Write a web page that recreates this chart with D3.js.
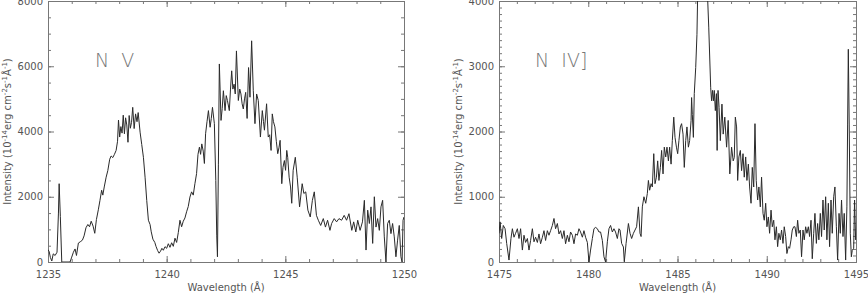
<!DOCTYPE html>
<html>
<head>
<meta charset="utf-8">
<script src="https://cdn.jsdelivr.net/npm/d3@7"></script>
<style>
  body { margin: 0; background: #fff; }
  svg { display: block; }
  .axis path, .axis line { stroke: #777; }
  .axis text { fill: #555; font-family: "DejaVu Sans", sans-serif; font-size: 10px; }
  .lbl { fill: #555; font-family: "DejaVu Sans", sans-serif; font-size: 10px; }
  .ion { fill: #777; font-family: "DejaVu Sans", sans-serif; font-size: 19px; font-weight: 200; white-space: pre; }
</style>
</head>
<body>
<div class="chart"></div>
<script>
// N V panel (1235-1250 A)
let nvWave = [1235.00,1235.05,1235.10,1235.16,1235.22,1235.30,1235.38,1235.44,1235.47,1235.52,1235.58,1235.93,
  1236.00,1236.07,1236.14,1236.20,1236.28,1236.36,1236.45,1236.52,1236.60,1236.68,1236.75,1236.82,1236.90,1236.97,
  1237.04,1237.12,1237.19,1237.26,1237.31,1237.37,1237.45,1237.52,1237.60,1237.66,1237.73,1237.80,1237.87,1237.93,
  1237.97,1238.02,1238.07,1238.12,1238.17,1238.22,1238.27,1238.32,1238.37,1238.42,1238.47,1238.52,1238.57,1238.63,
  1238.69,1238.75,1238.80,1238.88,1238.95,1239.02,1239.09,1239.16,1239.23,1239.30,1239.35,1239.42,1239.50,1239.55,
  1239.62,1239.68,1239.74,1239.80,1239.86,1239.93,1240.00,1240.07,1240.14,1240.21,1240.28,1240.35,1240.42,1240.49,
  1240.56,1240.63,1240.70,1240.77,1240.84,1240.91,1240.98,1241.05,1241.12,1241.19,1241.26,1241.32,1241.38,1241.43,
  1241.48,1241.54,1241.59,1241.64,1241.70,1241.76,1241.83,1241.88,1241.93,1242.01,1242.07,1242.11,1242.14,1242.18,
  1242.22,1242.29,1242.34,1242.39,1242.46,1242.51,1242.56,1242.64,1242.69,1242.74,1242.79,1242.84,1242.89,1242.94,
  1243.02,1243.08,1243.13,1243.18,1243.23,1243.28,1243.33,1243.39,1243.45,1243.51,1243.58,1243.65,1243.72,1243.79,
  1243.86,1243.95,1244.03,1244.08,1244.12,1244.21,1244.28,1244.34,1244.40,1244.45,1244.50,1244.56,1244.62,1244.68,
  1244.73,1244.78,1244.85,1244.90,1244.96,1245.01,1245.06,1245.10,1245.16,1245.22,1245.27,1245.33,1245.42,1245.50,
  1245.60,1245.71,1245.78,1245.86,1245.95,1246.05,1246.14,1246.22,1246.31,1246.39,1246.49,1246.60,1246.69,1246.78,
  1246.88,1246.95,1247.06,1247.16,1247.26,1247.37,1247.48,1247.58,1247.68,1247.80,1247.88,1247.97,1248.05,1248.15,
  1248.25,1248.33,1248.40,1248.47,1248.54,1248.61,1248.68,1248.75,1248.82,1248.89,1248.96,1249.03,1249.10,1249.17,
  1249.24,1249.31,1249.38,1249.45,1249.52,1249.59,1249.66,1249.73,1249.80,1249.87,1249.92,1249.96,1250.00];
let nvFlux = [380,320,140,30,250,200,300,1500,2400,1400,0,0,
  150,300,400,200,580,620,670,800,1050,1150,1080,1250,1100,880,
  1300,1600,1890,2200,2050,2300,2600,2800,3150,3250,3200,3300,3420,3700,
  4350,3830,4150,3950,4500,3930,4420,4200,3670,4490,4100,4280,4740,4090,
  4540,4300,4580,3980,3600,3210,2600,1890,1280,1150,925,700,600,480,
  350,270,330,420,360,470,420,560,450,590,480,730,600,900,
  1280,1080,1250,1350,1540,1700,1990,2150,2050,2400,2710,3300,3520,3300,
  3620,3400,3020,3930,4300,4640,4130,4400,4740,4240,2500,800,160,3000,
  6070,4340,4700,5250,4640,5100,4950,4640,5300,5860,5300,5450,5150,6470,
  4950,5300,5150,4850,4690,5000,5200,4400,5960,5050,6780,5250,4240,5150,
  4950,3830,4640,4300,4040,4850,3830,3900,3420,4540,4300,4140,3700,3320,
  3500,3730,2400,2900,3110,2810,3420,3210,2600,2300,1800,2810,3210,2600,
  1690,2400,2100,2150,1590,1380,1890,2150,1430,1280,1120,1330,1070,1280,
  970,1180,1330,1230,1330,1280,1430,1280,1480,970,1230,920,1280,970,
  1230,1890,366,1590,1180,1690,570,2000,1070,1330,970,1690,1890,770,
  0,1180,1280,870,1180,770,160,670,1120,160,0,1280,1380];

// N IV] panel (1475-1495 A)
let n4Wave = [1475.00,1475.06,1475.15,1475.24,1475.34,1475.43,1475.56,1475.67,1475.75,1475.84,1475.93,1476.03,
  1476.12,1476.21,1476.31,1476.40,1476.49,1476.59,1476.68,1476.77,1476.87,1476.96,1477.05,1477.15,1477.24,1477.33,
  1477.43,1477.52,1477.61,1477.71,1477.80,1477.89,1477.99,1478.08,1478.17,1478.27,1478.36,1478.45,1478.55,1478.64,
  1478.73,1478.83,1478.92,1479.01,1479.11,1479.20,1479.29,1479.39,1479.48,1479.57,1479.67,1479.76,1479.85,1479.95,
  1480.04,1480.13,1480.23,1480.32,1480.41,1480.51,1480.60,1480.69,1480.79,1480.88,1480.97,1481.07,1481.16,1481.25,
  1481.35,1481.44,1481.53,1481.63,1481.72,1481.78,1481.87,1481.97,1482.02,1482.12,1482.25,1482.34,1482.43,1482.53,
  1482.62,1482.71,1482.81,1482.90,1482.96,1483.03,1483.12,1483.22,1483.31,1483.37,1483.44,1483.52,1483.59,1483.67,
  1483.74,1483.82,1483.89,1483.96,1484.04,1484.11,1484.19,1484.26,1484.34,1484.41,1484.49,1484.56,1484.64,1484.71,
  1484.79,1484.86,1484.94,1485.01,1485.08,1485.16,1485.23,1485.31,1485.38,1485.46,1485.53,1485.61,1485.68,1485.76,
  1485.79,1485.83,1485.89,1485.94,1486.02,1486.09,1486.13,1486.22,1486.35,1486.48,1486.60,1486.68,1486.75,1486.86,
  1486.91,1486.96,1487.01,1487.06,1487.12,1487.18,1487.22,1487.27,1487.33,1487.40,1487.49,1487.56,1487.65,1487.75,
  1487.84,1487.93,1488.03,1488.12,1488.18,1488.24,1488.31,1488.37,1488.44,1488.52,1488.59,1488.67,1488.74,1488.82,
  1488.89,1488.97,1489.04,1489.12,1489.19,1489.27,1489.34,1489.41,1489.49,1489.56,1489.64,1489.71,1489.79,1489.86,
  1489.94,1490.01,1490.09,1490.16,1490.24,1490.31,1490.39,1490.46,1490.54,1490.61,1490.68,1490.76,1490.83,1490.91,
  1490.98,1491.06,1491.13,1491.21,1491.28,1491.36,1491.43,1491.51,1491.58,1491.66,1491.73,1491.80,1491.88,1491.95,
  1492.03,1492.10,1492.18,1492.25,1492.33,1492.40,1492.48,1492.55,1492.63,1492.70,1492.78,1492.85,1492.92,1493.00,
  1493.07,1493.15,1493.22,1493.30,1493.37,1493.45,1493.52,1493.60,1493.67,1493.75,1493.82,1493.90,1493.97,1494.05,
  1494.12,1494.19,1494.27,1494.34,1494.42,1494.49,1494.53,1494.57,1494.62,1494.68,1494.74,1494.79,1494.87,1494.92,
  1494.98,1495.00];
let n4Flux = [438,615,360,560,510,285,30,360,510,380,440,510,
  360,510,183,410,300,360,183,330,510,310,380,300,430,280,
  380,480,330,480,410,480,560,667,510,590,430,480,360,480,
  280,410,310,460,410,280,430,410,510,460,380,480,380,300,
  0,183,360,510,530,510,460,460,330,80,0,310,510,560,
  460,510,460,360,510,490,285,230,5,285,590,440,360,440,
  490,540,845,440,390,845,1000,900,1050,1250,1100,1200,1150,1660,
  1200,1300,1550,1250,1450,1710,1350,1760,1610,1760,1550,1760,1500,1860,
  2220,1910,1760,1660,1860,2070,2120,1960,1450,1860,2070,1760,1860,2170,
  2520,2260,1910,2580,2980,3490,4100,4900,5600,5300,4600,4100,3600,2670,
  2470,2630,2470,2630,2320,2580,1710,2630,2370,1860,2420,1960,2220,1760,
  2170,1350,1760,1550,1600,2220,2070,1250,1610,1710,1400,1660,1300,1610,
  1250,1500,1150,900,1450,1150,2120,1250,950,1150,845,1300,745,640,
  900,540,690,440,795,540,640,340,540,235,440,340,490,285,
  540,390,130,235,210,340,490,540,540,390,640,440,490,80,
  490,340,540,440,540,390,640,50,440,745,285,590,340,745,
  390,950,490,1000,340,900,235,950,440,1000,1150,540,30,745,
  440,950,390,745,30,845,2100,3260,2100,440,80,180,210,950,
  340,400];

let nvXTicks = [1235, 1240, 1245, 1250];
let nvYTicks = [0, 2000, 4000, 6000, 8000];
let n4XTicks = [1475, 1480, 1485, 1490, 1495];
let n4YTicks = [0, 1000, 2000, 3000, 4000];

let svgWidth = 868;
let svgHeight = 294;
let plotTop = 1, plotBottom = 262;

let svg = d3.select(".chart")
  .append("svg")
  .attr("width", svgWidth)
  .attr("height", svgHeight);

function drawPanel(p) {
  let xScale = d3.scaleLinear().domain(p.xDomain).range([p.left, p.right]);
  let yScale = d3.scaleLinear().domain(p.yDomain).range([plotBottom, plotTop]);
  let g = svg.append("g");

  let xMinor = d3.range(p.xDomain[0], p.xDomain[1] + 0.001, 1);
  let yMinor = d3.range(p.yDomain[0], p.yDomain[1] + 0.001, p.yMinorStep);

  // minor ticks, all four sides, pointing inward
  g.append("g").attr("class", "axis").attr("transform", `translate(0,${plotBottom})`)
    .call(d3.axisBottom(xScale).tickValues(xMinor).tickSize(-3).tickFormat(""));
  g.append("g").attr("class", "axis").attr("transform", `translate(0,${plotTop})`)
    .call(d3.axisTop(xScale).tickValues(xMinor).tickSize(-3).tickFormat(""));
  g.append("g").attr("class", "axis").attr("transform", `translate(${p.left},0)`)
    .call(d3.axisLeft(yScale).tickValues(yMinor).tickSize(-3).tickFormat(""));
  g.append("g").attr("class", "axis").attr("transform", `translate(${p.right},0)`)
    .call(d3.axisRight(yScale).tickValues(yMinor).tickSize(-3).tickFormat(""));

  // major ticks
  g.append("g").attr("class", "axis").attr("transform", `translate(0,${plotBottom})`)
    .call(d3.axisBottom(xScale).tickValues(p.xTicks).tickSizeInner(-6).tickSizeOuter(0).tickPadding(9).tickFormat(d3.format("d")));
  g.append("g").attr("class", "axis").attr("transform", `translate(0,${plotTop})`)
    .call(d3.axisTop(xScale).tickValues(p.xTicks).tickSizeInner(-6).tickSizeOuter(0).tickFormat(""));
  g.append("g").attr("class", "axis").attr("transform", `translate(${p.left},0)`)
    .call(d3.axisLeft(yScale).tickValues(p.yTicks).tickSizeInner(-6).tickSizeOuter(0).tickPadding(5).tickFormat(d3.format("d")));
  g.append("g").attr("class", "axis").attr("transform", `translate(${p.right},0)`)
    .call(d3.axisRight(yScale).tickValues(p.yTicks).tickSizeInner(-6).tickSizeOuter(0).tickFormat(""));

  // spectrum
  let clipId = "clip" + p.left;
  svg.append("clipPath").attr("id", clipId)
    .append("rect").attr("x", p.left).attr("y", plotTop)
    .attr("width", p.right - p.left).attr("height", plotBottom - plotTop);

  let pts = p.wave.map((w, i) => [w, p.flux[i]]);
  let line = d3.line().x(d => xScale(d[0])).y(d => yScale(d[1]));
  g.append("path")
    .datum(pts)
    .attr("clip-path", `url(#${clipId})`)
    .attr("fill", "none")
    .attr("stroke", "#2a2a2a")
    .attr("stroke-width", 1)
    .attr("d", line);

  // axis titles
  g.append("text").attr("class", "lbl")
    .attr("x", (p.left + p.right) / 2).attr("y", 291)
    .attr("text-anchor", "middle")
    .text("Wavelength (Å)");

  let yl = g.append("text").attr("class", "lbl")
    .attr("transform", `translate(${p.left - 37},${(plotTop + plotBottom) / 2}) rotate(-90)`)
    .attr("text-anchor", "middle");
  yl.append("tspan").text("Intensity (10");
  yl.append("tspan").attr("dy", -4).attr("font-size", "7px").text("-14");
  yl.append("tspan").attr("dy", 4).text("erg cm");
  yl.append("tspan").attr("dy", -4).attr("font-size", "7px").text("-2");
  yl.append("tspan").attr("dy", 4).text("s");
  yl.append("tspan").attr("dy", -4).attr("font-size", "7px").text("-1");
  yl.append("tspan").attr("dy", 4).text("Å");
  yl.append("tspan").attr("dy", -4).attr("font-size", "7px").text("-1");
  yl.append("tspan").attr("dy", 4).text(")");

  g.append("text").attr("class", "ion")
    .attr("x", p.ionX).attr("y", 67)
    .text(p.ion);
}

drawPanel({
  left: 48, right: 404,
  xDomain: [1235, 1250], yDomain: [0, 8000], yMinorStep: 500,
  xTicks: nvXTicks, yTicks: nvYTicks,
  wave: nvWave, flux: nvFlux,
  ion: "N  V", ionX: 95
});

drawPanel({
  left: 499, right: 856,
  xDomain: [1475, 1495], yDomain: [0, 4000], yMinorStep: 100,
  xTicks: n4XTicks, yTicks: n4YTicks,
  wave: n4Wave, flux: n4Flux,
  ion: "N  IV]", ionX: 535
});
</script>
</body>
</html>
